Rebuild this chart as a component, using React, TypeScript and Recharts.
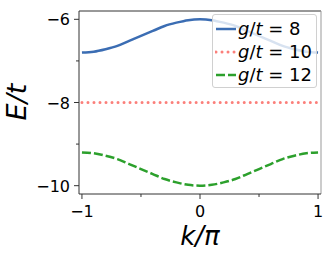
import React from 'react';
import { Legend, Line, LineChart, ReferenceLine, XAxis, YAxis } from 'recharts';

const kValues = [-1, -0.9, -0.8, -0.7, -0.6, -0.5, -0.4, -0.3, -0.2, -0.1, 0, 0.1, 0.2, 0.3, 0.4, 0.5, 0.6, 0.7, 0.8, 0.9, 1];
const energyG8 = [-6.8, -6.78, -6.72, -6.64, -6.52, -6.4, -6.28, -6.16, -6.08, -6.02, -6.0, -6.02, -6.08, -6.16, -6.28, -6.4, -6.52, -6.64, -6.72, -6.78, -6.8];
const energyG10 = [-8, -8, -8, -8, -8, -8, -8, -8, -8, -8, -8, -8, -8, -8, -8, -8, -8, -8, -8, -8, -8];
const energyG12 = [-9.2, -9.22, -9.28, -9.36, -9.48, -9.6, -9.72, -9.84, -9.92, -9.98, -10.0, -9.98, -9.92, -9.84, -9.72, -9.6, -9.48, -9.36, -9.28, -9.22, -9.2];

const xTicks = [-1, -0.5, 0, 0.5, 1];
const xLabels: Record<string, string> = { '-1': '−1', '0': '0', '1': '1' };
const yTicks = [-10, -9, -8, -7, -6];
const yLabels: Record<string, string> = { '-10': '−10', '-8': '−8', '-6': '−6' };

const seriesNames = ['8', '10', '12'];
const seriesColors = ['#3b6db3', '#fb7f7a', '#2ca02c'];

const data = kValues.map((k, i) => ({
  k,
  g8: energyG8[i],
  g10: energyG10[i],
  g12: energyG12[i],
}));

const X_DOMAIN: [number, number] = [-1.025, 1.025];
const Y_DOMAIN: [number, number] = [-10.2, -5.8];
const FONT = '"DejaVu Sans", sans-serif';
const AXIS = '#333';

const XTick = (props: any) => {
  const { x, y, payload } = props;
  const label = xLabels[String(payload.value)];
  return (
    <g>
      <line x1={x} x2={x} y1={y} y2={y + (label ? 5 : 3)} stroke={AXIS} strokeWidth={1} />
      {label && (
        <text x={x} y={y + 23} textAnchor="middle" fontSize={16} fill="#000" fontFamily={FONT}>
          {label}
        </text>
      )}
    </g>
  );
};

const YTick = (props: any) => {
  const { x, y, payload } = props;
  const label = yLabels[String(payload.value)];
  return (
    <g>
      <line x1={x} x2={x - (label ? 5 : 3)} y1={y} y2={y} stroke={AXIS} strokeWidth={1} />
      {label && (
        <text x={x - 9} y={y + 6} textAnchor="end" fontSize={16} fill="#000" fontFamily={FONT}>
          {label}
        </text>
      )}
    </g>
  );
};

const LegendBox = () => (
  <div
    style={{
      position: 'absolute',
      left: 212,
      top: 14,
      width: 105,
      height: 74,
      boxSizing: 'border-box',
      background: 'rgba(255,255,255,0.8)',
      border: '1px solid #d0d0d0',
      borderRadius: 3,
      fontFamily: FONT,
      fontSize: 18,
    }}
  >
    {seriesNames.map((name, i) => (
      <div key={name} style={{ position: 'absolute', left: 2, top: 3 + i * 23, height: 22, display: 'flex', alignItems: 'center' }}>
        <svg width={22} height={10}>
          <line
            x1={1}
            x2={21}
            y1={5}
            y2={5}
            stroke={seriesColors[i]}
            strokeWidth={i === 1 ? 3 : 2.5}
            strokeDasharray={i === 1 ? '0.01 6' : i === 2 ? '9 3' : undefined}
            strokeLinecap={i === 1 ? 'round' : 'butt'}
          />
        </svg>
        <span style={{ marginLeft: 1, lineHeight: '22px', whiteSpace: 'nowrap' }}>
          <i>g</i>/<i>t</i> = {name}
        </span>
      </div>
    ))}
  </div>
);

export default function App() {
  return (
    <div style={{ position: 'relative', width: 332, height: 254 }}>
      <style>{'body{margin:0}'}</style>
      <LineChart width={332} height={254} data={data} margin={{ top: 11, right: 11, bottom: 0, left: 0 }}>
        <XAxis
          dataKey="k"
          type="number"
          domain={X_DOMAIN}
          ticks={xTicks}
          interval={0}
          tick={<XTick />}
          tickLine={false}
          tickSize={0}
          tickMargin={0}
          axisLine={{ stroke: AXIS }}
          height={60}
        />
        <YAxis
          type="number"
          domain={Y_DOMAIN}
          ticks={yTicks}
          interval={0}
          tick={<YTick />}
          tickLine={false}
          tickSize={0}
          tickMargin={0}
          axisLine={{ stroke: AXIS }}
          width={79}
        />
        <ReferenceLine y={Y_DOMAIN[1]} stroke={AXIS} strokeWidth={1} />
        <ReferenceLine x={X_DOMAIN[1]} stroke="#999" strokeWidth={1} />
        <Line type="monotone" dataKey="g8" stroke={seriesColors[0]} strokeWidth={2.5} dot={false} isAnimationActive={false} />
        <Line
          type="monotone"
          dataKey="g10"
          stroke={seriesColors[1]}
          strokeWidth={3}
          strokeDasharray="0.01 6"
          strokeLinecap="round"
          dot={false}
          isAnimationActive={false}
        />
        <Line type="monotone" dataKey="g12" stroke={seriesColors[2]} strokeWidth={2.5} strokeDasharray="9 3" dot={false} isAnimationActive={false} />
        <Legend content={<LegendBox />} wrapperStyle={{ position: 'absolute', left: 0, top: 0, width: 0, height: 0 }} />
        <text x={200} y={245} textAnchor="middle" fontSize={26} fontStyle="italic" fontFamily={FONT} fill="#000">
          k/π
        </text>
        <text
          x={26}
          y={102}
          textAnchor="middle"
          fontSize={27}
          fontStyle="italic"
          fontFamily={FONT}
          fill="#000"
          transform="rotate(-90 26 102)"
        >
          E/t
        </text>
      </LineChart>
    </div>
  );
}
